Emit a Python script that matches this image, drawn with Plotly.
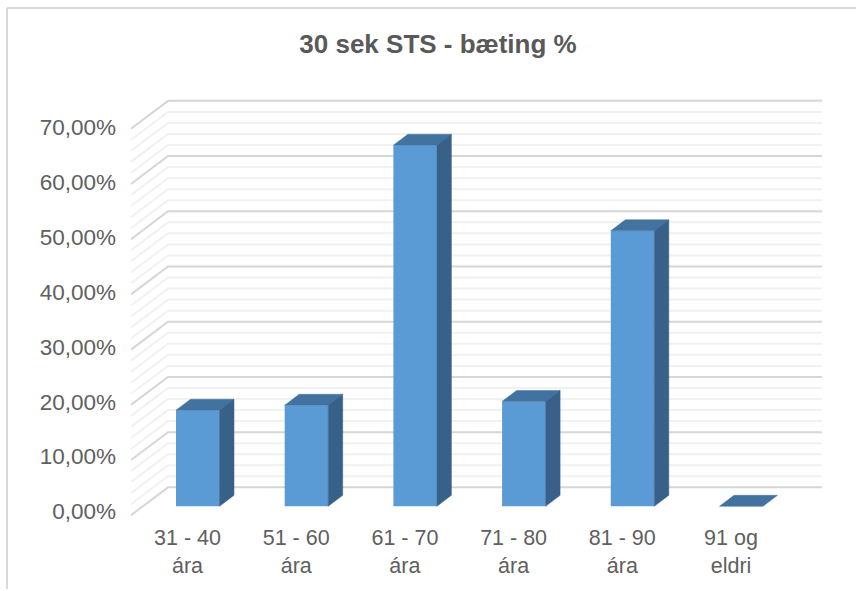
import plotly.graph_objects as go

# ---- data ----
categories = ["31 - 40<br>ára", "51 - 60<br>ára", "61 - 70<br>ára",
              "71 - 80<br>ára", "81 - 90<br>ára", "91 og<br>eldri"]
values = [17.4, 18.3, 65.4, 19.0, 49.9, 0.0]
major_ticks = [0, 10, 20, 30, 40, 50, 60, 70]
major_labels = ["0,00%", "10,00%", "20,00%", "30,00%", "40,00%", "50,00%", "60,00%", "70,00%"]
grid_values = [0, 2, 4, 6, 8, 10, 12, 14, 16, 18, 20, 22, 24, 26, 28, 30, 32, 34,
               36, 38, 40, 42, 44, 46, 48, 50, 52, 54, 56, 58, 60, 62, 64, 66, 68, 70]

# ---- page geometry ----
W, H = 856, 591
PLOT_L, PLOT_B = 117, 524
CAT_PX = 108.7
X0_PX = 187.5          # pixel of first category tick
def xv(px): return (px - X0_PX) / CAT_PX

VAL_PX = 5.54          # pixels per percent in the drawn planes
Y0_PX = 508            # baseline of bar fronts
LABEL_Y0_PX = 513      # pixel of the "0,00%" label
def dv(px): return px / VAL_PX

# oblique projection offsets, in data units
BAR_OFF = xv(176) - xv(X0_PX)
BAR_W = 43.5 / CAT_PX
BAR_DX, BAR_DY = 14.5 / CAT_PX, dv(11)
WALL_L, WALL_R, FLOOR_DX = xv(168), xv(822), 37 / CAT_PX
WALL_DY, FRONT_DY = dv(19), dv(-9)

FRONT, TOP, SIDE = "#5B9BD5", "#42729F", "#376188"
TEXT = "#595959"
TICK_TEXT = "#606060"
MAJOR, MINOR = "#D6D6D6", "#F1F1F1"

fig = go.Figure()

# invisible trace carrying the tick-label axes
fig.add_trace(go.Scatter(x=[0, 5], y=[0, 70], xaxis="x", yaxis="y", mode="markers",
                         marker=dict(opacity=0), hoverinfo="skip", showlegend=False))

# gridlines: slanted on the side wall, flat on the back wall
for is_major in (False, True):
    xs, ys = [], []
    for g in grid_values:
        if (g in major_ticks) != is_major:
            continue
        xs += [WALL_L - FLOOR_DX, WALL_L, WALL_R, None]
        ys += [g + FRONT_DY, g + WALL_DY, g + WALL_DY, None]
    fig.add_trace(go.Scatter(x=xs, y=ys, xaxis="x", yaxis="y2", mode="lines",
                             line=dict(color=MAJOR if is_major else MINOR, width=2),
                             hoverinfo="skip", showlegend=False))

# bars: front faces
fig.add_trace(go.Bar(x=list(range(len(values))), y=values, xaxis="x", yaxis="y3",
                     width=BAR_W, offset=BAR_OFF, marker=dict(color=FRONT, line=dict(width=0)),
                     hoverinfo="skip", showlegend=False))

# bars: top and side faces
for i, v in enumerate(values):
    l = i + BAR_OFF
    r = l + BAR_W
    fig.add_trace(go.Scatter(x=[l, r, r + BAR_DX, l + BAR_DX, l],
                             y=[v, v, v + BAR_DY, v + BAR_DY, v],
                             xaxis="x", yaxis="y3", mode="lines", fill="toself",
                             fillcolor=TOP, line=dict(color=TOP, width=0.5),
                             hoverinfo="skip", showlegend=False))
    if v > 0:
        fig.add_trace(go.Scatter(x=[r, r + BAR_DX, r + BAR_DX, r, r],
                                 y=[0, BAR_DY, v + BAR_DY, v, 0],
                                 xaxis="x", yaxis="y3", mode="lines", fill="toself",
                                 fillcolor=SIDE, line=dict(color=SIDE, width=0.5),
                                 hoverinfo="skip", showlegend=False))

geom_range = [(Y0_PX - PLOT_B) / VAL_PX, Y0_PX / VAL_PX]
fig.update_layout(
    width=W, height=H, margin=dict(l=0, r=0, t=0, b=0),
    paper_bgcolor="white", plot_bgcolor="rgba(0,0,0,0)",
    font=dict(family="Liberation Sans, Arial, sans-serif", color=TEXT),
    title=dict(text="<b>30 sek STS - bæting %</b>", x=438 / W, xanchor="center",
               y=1 - 44 / H, yanchor="middle", font=dict(size=26, color=TEXT)),
    showlegend=False,
    xaxis=dict(domain=[PLOT_L / W, 1], range=[xv(PLOT_L), xv(W)], anchor="y",
               tickmode="array", tickvals=list(range(len(categories))), ticktext=categories,
               tickfont=dict(size=21.5, color=TICK_TEXT), showgrid=False, zeroline=False,
               showline=False, ticks="", fixedrange=True),
    yaxis=dict(domain=[(H - PLOT_B) / H, 1],
               range=[(LABEL_Y0_PX - PLOT_B) / 5.5, LABEL_Y0_PX / 5.5],
               tickmode="array", tickvals=major_ticks, ticktext=major_labels,
               tickfont=dict(size=22.5, color=TICK_TEXT), showgrid=False, zeroline=False,
               showline=False, ticks="", fixedrange=True),
    yaxis2=dict(domain=[(H - PLOT_B) / H, 1], range=geom_range, overlaying="y", anchor="x",
                visible=False, fixedrange=True),
    yaxis3=dict(domain=[(H - PLOT_B) / H, 1], range=geom_range, overlaying="y", anchor="x",
                visible=False, fixedrange=True),
    shapes=[
        dict(type="line", xref="paper", yref="paper", x0=7 / W, x1=7 / W, y0=0, y1=1 - 8 / H,
             line=dict(color="#D9D9D9", width=2)),
        dict(type="line", xref="paper", yref="paper", x0=7 / W, x1=1, y0=1 - 8 / H, y1=1 - 8 / H,
             line=dict(color="#D9D9D9", width=2)),
    ],
)

fig.write_html("out.html", config={"displayModeBar": False},
               post_script="document.body.style.margin='0';document.body.style.overflow='hidden';")
